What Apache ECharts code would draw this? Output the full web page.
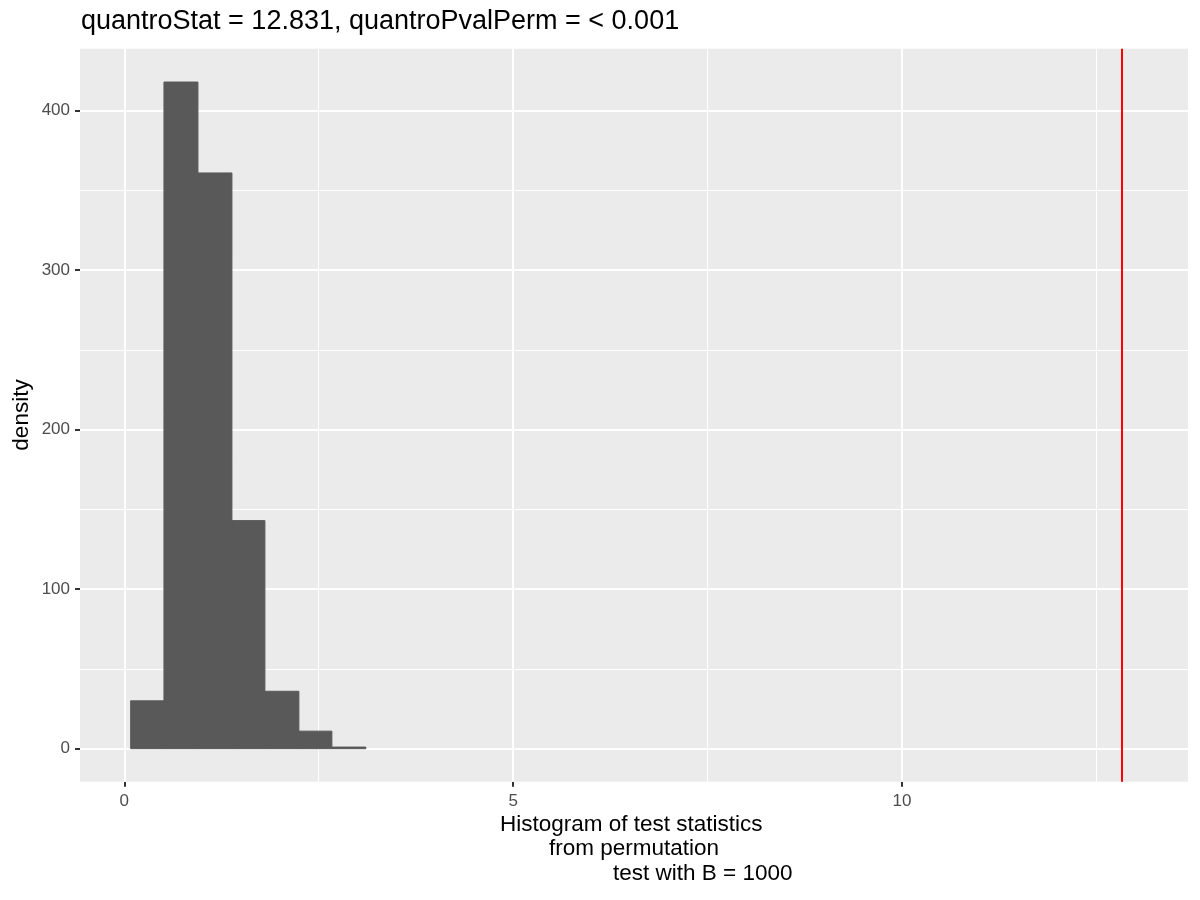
<!DOCTYPE html>
<html>
<head>
<meta charset="utf-8">
<script src="https://cdn.jsdelivr.net/npm/echarts@6/dist/echarts.min.js"></script>
<style>html,body{margin:0;padding:0;background:#fff}#c{width:1200px;height:900px}</style>
</head>
<body>
<div id="c"></div>
<script>
// ---- data ----
var binEdges = [0.082, 0.510, 0.947, 1.384, 1.808, 2.245, 2.669, 3.106];
var binHeights = [30, 418, 361, 143, 36, 11, 1];
var observedStat = 12.831;
var xTickValues = [0, 5, 10];
var xMinorValues = [2.5, 7.5, 12.5];
var yTickValues = [0, 100, 200, 300, 400];
var yMinorValues = [50, 150, 250, 350];
var titleText = 'quantroStat = 12.831, quantroPvalPerm = < 0.001';
var xTitleLines = ['Histogram of test statistics', 'from permutation', 'test with B = 1000'];
var yTitleText = 'density';

var FONT = '"Liberation Sans", Arial, sans-serif';
var bars = binHeights.map(function (h, i) { return [binEdges[i], binEdges[i + 1], h]; });

var chart = echarts.init(document.getElementById('c'), null, { renderer: 'canvas' });

function vLines(vals) { return vals.map(function (v) { return { xAxis: v }; }); }
function hLines(vals) { return vals.map(function (v) { return { yAxis: v }; }); }

var option = {
  animation: false,
  backgroundColor: '#ffffff',
  grid: { left: 80, right: 12, top: 48.7, bottom: 118.3, show: true, backgroundColor: '#EBEBEB', borderWidth: 0 },
  xAxis: {
    type: 'value', min: -0.5696, max: 13.677,
    axisLine: { show: false, onZero: false },
    splitLine: { show: false },
    axisTick: { show: true, length: 5, lineStyle: { color: '#333333', width: 2 }, customValues: xTickValues },
    axisLabel: { customValues: xTickValues, color: '#4D4D4D', fontSize: 17, fontFamily: FONT, margin: 11 }
  },
  yAxis: {
    type: 'value', min: -20.7, max: 438.9,
    axisLine: { show: false, onZero: false },
    splitLine: { show: false },
    axisTick: { show: true, length: 5, lineStyle: { color: '#333333', width: 2 }, customValues: yTickValues },
    axisLabel: { customValues: yTickValues, color: '#4D4D4D', fontSize: 17, fontFamily: FONT, margin: 10 }
  },
  series: [
    {
      type: 'line', data: [], z: 1, silent: true,
      markLine: {
        z: 1, silent: true, symbol: 'none', label: { show: false }, animation: false,
        lineStyle: { color: '#ffffff', width: 1, type: 'solid' },
        emphasis: { disabled: true },
        data: vLines(xMinorValues).concat(hLines(yMinorValues))
      }
    },
    {
      type: 'line', data: [], z: 1, silent: true,
      markLine: {
        z: 1, silent: true, symbol: 'none', label: { show: false }, animation: false,
        lineStyle: { color: '#ffffff', width: 2, type: 'solid' },
        emphasis: { disabled: true },
        data: vLines(xTickValues).concat(hLines(yTickValues))
      }
    },
    {
      type: 'custom', z: 3, silent: true,
      data: bars,
      encode: { x: [0, 1], y: 2 },
      renderItem: function (params, api) {
        var p0 = api.coord([api.value(0), api.value(2)]);
        var p1 = api.coord([api.value(1), 0]);
        return {
          type: 'rect',
          z2: 10,
          shape: { x: p0[0], y: p0[1], width: p1[0] - p0[0], height: p1[1] - p0[1] },
          style: { fill: '#595959', stroke: '#595959', lineWidth: 1 }
        };
      }
    },
    {
      type: 'line', data: [], z: 6, silent: true,
      markLine: {
        z: 6, silent: true, symbol: 'none', label: { show: false }, animation: false,
        lineStyle: { color: '#FF0000', width: 2, type: 'solid' },
        emphasis: { disabled: true },
        data: [{ xAxis: observedStat }]
      }
    }
  ],
  graphic: [
    { type: 'text', left: 81, top: 8, style: { text: titleText, font: '27px ' + FONT, fill: '#000' } },
    { type: 'text', x: 500, y: 825, style: { text: xTitleLines[0], font: '22.5px ' + FONT, fill: '#000', verticalAlign: 'middle', align: 'left' } },
    { type: 'text', x: 549, y: 849, style: { text: xTitleLines[1], font: '22.5px ' + FONT, fill: '#000', verticalAlign: 'middle', align: 'left' } },
    { type: 'text', x: 613, y: 874, style: { text: xTitleLines[2], font: '22.5px ' + FONT, fill: '#000', verticalAlign: 'middle', align: 'left' } },
    { type: 'text', x: 22, y: 415, rotation: Math.PI / 2, style: { text: yTitleText, font: '22.5px ' + FONT, fill: '#000', verticalAlign: 'middle', align: 'center' } }
  ]
};
chart.setOption(option);
</script>
</body>
</html>
